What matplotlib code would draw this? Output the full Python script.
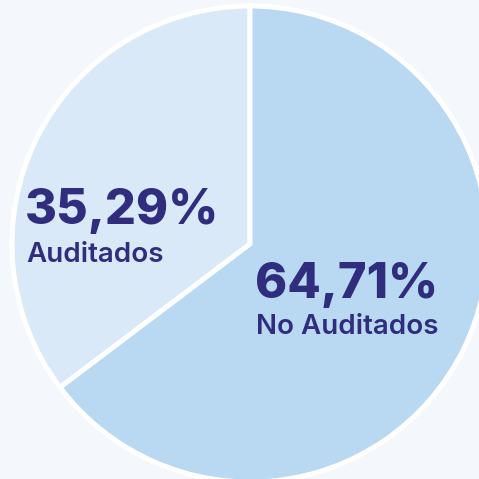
import matplotlib
matplotlib.use("Agg")
import matplotlib.pyplot as plt

labels = ["Auditados", "No Auditados"]
values = [35.29, 64.71]
pct_text = ["35,29%", "64,71%"]
colors = ["#d9e9f8", "#b9d8f1"]

W = 479
bg = "#f4f8fd"
navy = "#302c7e"

fig = plt.figure(figsize=(W / 100, W / 100), dpi=100, facecolor=bg)
ax = fig.add_axes([0, 0, 1, 1])
ax.set_facecolor(bg)

# pie centre and radius in pixels (y counted from the bottom)
ax.pie(values, colors=colors, startangle=90, counterclock=True,
       center=(250, W - 244), radius=238, frame=True,
       wedgeprops=dict(edgecolor="white", linewidth=3.6))
ax.set_xlim(0, W)
ax.set_ylim(0, W)
ax.set_aspect("equal")
ax.axis("off")

# labels: (x, baseline of percent, baseline of name)
pos = [(25, W - 224, W - 262), (255, W - 298, W - 334)]
for (x, yp, yn), p, name in zip(pos, pct_text, labels):
    ax.text(x, yp, p, fontsize=35, fontweight="heavy", family="Inter",
            color=navy, ha="left", va="baseline")
    ax.text(x + 1, yn, name, fontsize=20, fontweight="semibold", family="Inter",
            color=navy, ha="left", va="baseline")

fig.savefig("out.png", dpi=100, facecolor=bg)
